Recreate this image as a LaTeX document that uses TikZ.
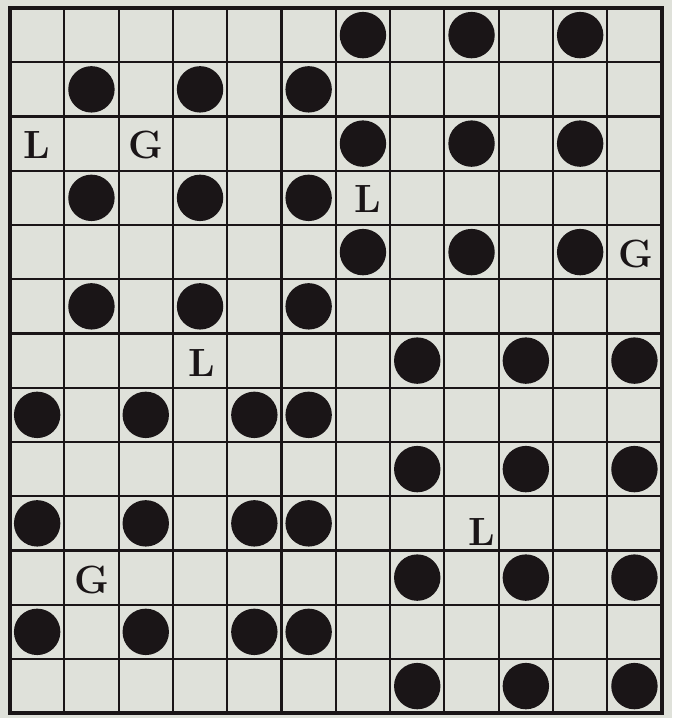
\documentclass[tikz,border=0pt]{standalone}
\usepackage{tikz}

\begin{document}
\begin{tikzpicture}[x=0.025cm,y=-0.025cm]
\definecolor{paper}{RGB}{223,225,218}
\definecolor{ink}{RGB}{26,21,23}
\tikzset{
  stone/.style={circle,fill=ink,inner sep=0pt,minimum size=1.16cm},
  letter/.style={font=\fontsize{28}{30}\selectfont\bfseries,text=ink,inner sep=0pt},
  gridline/.style={draw=ink,line width=1.5pt}
}
\useasboundingbox (0,0) rectangle (672,718);
\fill[paper] (0,0) rectangle (672,718);
% grid lines
\foreach \c in {1,...,11}
  \draw[gridline] ({10+54.3*\c},8) -- ({10+54.3*\c},713);
\foreach \r in {1,...,12}
  \draw[gridline] (10,{8+54.25*\r}) -- (662,{8+54.25*\r});
\draw[draw=ink,line width=2.6pt] (10,8) rectangle (662,713);
% stones, upper part
\foreach \r in {0,2,4}
  \foreach \c in {6,8,10}
    \node[stone] (s\r-\c) at ({37.15+54.3*\c},{35.1+54.25*\r}) {};
\foreach \r in {1,3,5}
  \foreach \c in {1,3,5}
    \node[stone] (s\r-\c) at ({37.15+54.3*\c},{35.1+54.25*\r}) {};
% stones, lower part
\foreach \r in {6,8,10,12}
  \foreach \c in {7,9,11}
    \node[stone] (s\r-\c) at ({37.15+54.3*\c},{35.1+54.25*\r}) {};
\foreach \r in {7,9,11}
  \foreach \c in {0,2,4,5}
    \node[stone] (s\r-\c) at ({37.15+54.3*\c},{35.1+54.25*\r}) {};
% letters
\node[letter] (l2-0) at (37.15,145) {L};
\node[letter] (g2-2) at (145.75,145) {G};
\node[letter] (l3-6) at (368,199) {L};
\node[letter] (g4-11) at (636,254) {G};
\node[letter] (l6-3) at (202,363) {L};
\node[letter] (l9-8) at (482,532) {L};
\node[letter] (g10-1) at (92,580) {G};
\end{tikzpicture}
\end{document}
